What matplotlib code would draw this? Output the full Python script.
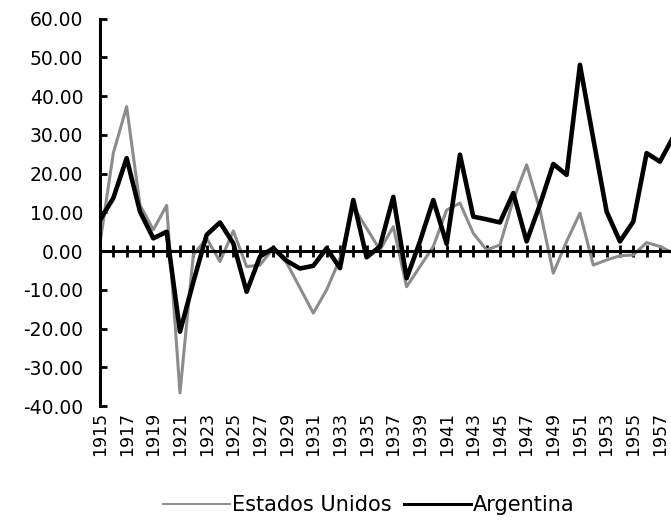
import numpy as np
import matplotlib.pyplot as plt

years = np.arange(1915, 1959)

estados_unidos = [2, 25.3, 37.3, 11.9, 5.5, 11.8, -36.6, -1, 3.3, -2.7,
                  5.2, -4, -3.6, 0.75, -3, -9.5, -16, -10, -2, 11.5,
                  5.9, 0.3, 6.3, -9.2, -4, 1.2, 10.6, 12.4, 4.6, 0.3,
                  1.6, 13.2, 22.3, 10.6, -5.7, 2.5, 9.8, -3.6, -2.3, -1.2,
                  -1, 2.2, 1.2, -0.5]

argentina = [8, 13.7, 24, 10.2, 3.3, 5, -20.8, -8, 4.2, 7.4,
             2, -10.5, -1.4, 0.75, -2.5, -4.5, -3.8, 0.75, -4.4, 13.2,
             -1.6, 1.2, 14, -7, 2.5, 13.2, 1.9, 24.9, 8.9, 8.2,
             7.4, 15, 2.5, 12, 22.5, 19.7, 48.1, 29, 10.2, 2.5,
             7.6, 25.3, 23.1, 29.5]

y_ticks = np.arange(-40, 61, 10)
y_labels = ["%.2f" % v for v in y_ticks]
x_label_years = np.arange(1915, 1958, 2)

plt.rcParams['font.family'] = ['DejaVu Sans']

fig = plt.figure(figsize=(6.71, 5.27), dpi=100)
ax = fig.add_axes([0.149, 0.2296, 0.8544, 0.7348])

ax.plot(years, estados_unidos, color='#8c8c8c', lw=2.2, label='Estados Unidos')
ax.plot(years, argentina, color='black', lw=3.3, label='Argentina')

ax.set_xlim(1915, 1958)
ax.set_ylim(-40, 60)

# zero line with year ticks crossing it
ax.spines['top'].set_visible(False)
ax.spines['right'].set_visible(False)
ax.spines['bottom'].set_position(('data', 0))
ax.spines['bottom'].set_linewidth(2.2)
ax.spines['left'].set_linewidth(2.2)
ax.set_xticks(years)
ax.tick_params(axis='x', direction='inout', length=9, width=2, labelbottom=False)

ax.set_yticks(y_ticks)
ax.set_yticklabels(y_labels)
ax.tick_params(axis='y', direction='in', length=5, width=2, labelsize=13.5, pad=12)

# year labels at the bottom of the plot area
sec = ax.secondary_xaxis(0)
sec.set_xticks(x_label_years)
sec.set_xticklabels([str(y) for y in x_label_years], rotation=90)
sec.tick_params(length=0, labelsize=12.5, pad=4)
sec.spines['bottom'].set_visible(False)

leg = fig.legend(loc='center', bbox_to_anchor=(0.55, 0.042), ncol=2, frameon=False,
                 fontsize=15, handlelength=3.2, handletextpad=0.1, columnspacing=0.6)
# thinner sample lines in the legend, like the original
for line, lw in zip(leg.get_lines(), [1.4, 2.2]):
    line.set_linewidth(lw)

fig.savefig('out.png', dpi=100)
